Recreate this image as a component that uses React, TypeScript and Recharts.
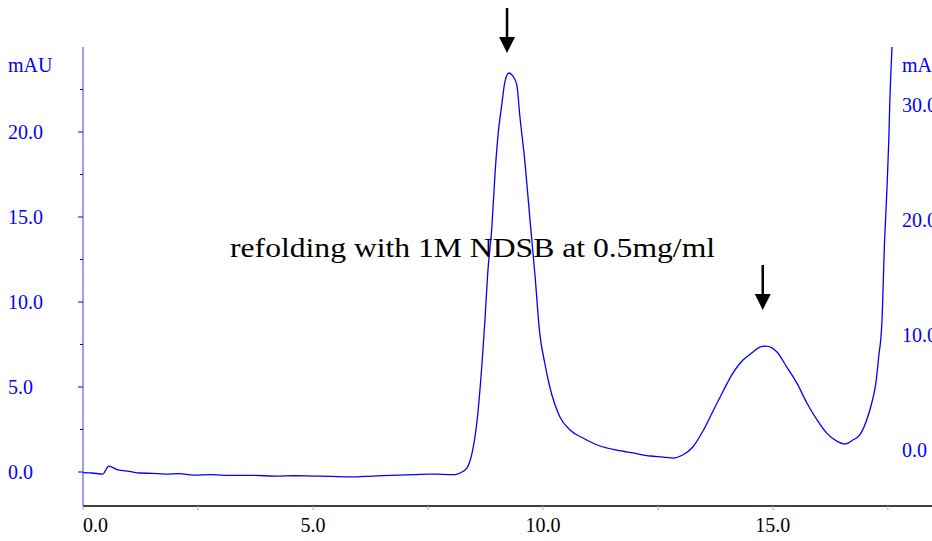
import React from "react";
import { LineChart, Line, XAxis, YAxis, ReferenceDot } from "recharts";

// retention time (min) and absorbance (mAU)
const timeMin = [
    0, 0.2, 0.43, 0.56, 0.76, 1.0, 1.24, 1.5, 1.78, 2.1, 2.39, 2.8, 3.2, 3.7, 4.22, 4.6, 5.0, 5.4,
    5.8, 6.3, 6.89, 7.2, 7.54, 7.8, 8.09, 8.2, 8.35, 8.46, 8.57, 8.67, 8.74, 8.8, 8.89, 8.96, 9.02,
    9.11, 9.17, 9.26, 9.33, 9.43, 9.5, 9.61, 9.72, 9.83, 9.93, 10.04, 10.15, 10.37, 10.59, 10.87,
    11.24, 11.61, 11.96, 12.33, 12.61, 12.83, 13.04, 13.26, 13.48, 13.7, 13.91, 14.13, 14.35,
    14.54, 14.72, 14.85, 15.09, 15.3, 15.52, 15.74, 15.96, 16.17, 16.39, 16.57, 16.74, 16.89,
    17.04, 17.15, 17.24, 17.3, 17.37, 17.43, 17.48, 17.52, 17.54, 17.59, 17.62
];
const signalMAU = [
    -0.04, -0.06, -0.12, 0.35, 0.12, 0.04, -0.06, -0.08, -0.12, -0.1, -0.18, -0.16, -0.2, -0.2,
    -0.24, -0.22, -0.24, -0.26, -0.29, -0.24, -0.18, -0.16, -0.12, -0.14, -0.15, -0.06, 0.24,
    1.12, 3.06, 6.18, 8.94, 11.7, 14.4, 17.6, 19.7, 21.7, 22.9, 23.47, 23.35, 22.8, 20.9, 18.2,
    14.8, 11.5, 8.18, 6.41, 5.0, 3.24, 2.47, 2.0, 1.53, 1.29, 1.12, 0.94, 0.88, 0.82, 1.0, 1.47,
    2.41, 3.59, 4.71, 5.82, 6.59, 7.0, 7.35, 7.41, 7.06, 6.18, 5.24, 4.06, 3.06, 2.29, 1.82,
    1.65, 1.88, 2.18, 3.06, 4.06, 5.24, 6.76, 8.76, 13.65, 16.6, 19.5, 21.5, 25.0, 27.0
];

const xTicks = [0, 2.5, 5, 7.5, 10, 12.5, 15, 17.5];
const leftTicks = [0, 2.5, 5, 7.5, 10, 12.5, 15, 17.5, 20, 22.5];
const rightTicks = [0, 10, 20, 30];

// arrows mark the two peaks: [time, mAU at arrow tip]
const arrowMarks = [
    [9.22, 24.65],
    [14.78, 9.53]
];
const noteText = "refolding with 1M NDSB at 0.5mg/ml";
const notePos = [8.47, 13.2];

const data = timeMin.map((t, i) => ({ t, mau: signalMAU[i] }));

const FONT = "'Liberation Serif', 'Times New Roman', serif";
const BLUE = "#0000ff";

function XTick({ x, y, payload }: any) {
    const v = payload.value;
    if (v % 5 !== 0) return null;
    return (
        <text x={x} y={y + 22} textAnchor={v === 0 ? "start" : "middle"} fill="#000" fontSize={20} fontFamily={FONT}>
            {v.toFixed(1)}
        </text>
    );
}

function LeftTick({ x, y, payload }: any) {
    const v = payload.value;
    const major = v % 5 === 0;
    return (
        <g>
            <line x1={x - (major ? 5 : 3)} x2={x} y1={y} y2={y} stroke={BLUE} strokeWidth={1} />
            {major && (
                <text x={x - 75} y={y + 7} textAnchor="start" fill={BLUE} fontSize={20} fontFamily={FONT}>
                    {v.toFixed(1)}
                </text>
            )}
        </g>
    );
}

// right axis labels sit a little inside the plot's right edge
function RightTick({ x, y, payload }: any) {
    return (
        <text x={x - 30} y={y + 7} textAnchor="start" fill={BLUE} fontSize={20} fontFamily={FONT}>
            {payload.value.toFixed(1)}
        </text>
    );
}

function Arrow({ cx, cy }: any) {
    return (
        <g>
            <line x1={cx} x2={cx} y1={cy - 45} y2={cy - 14} stroke="#000" strokeWidth={2.5} />
            <polygon points={`${cx - 8},${cy - 16} ${cx + 8},${cy - 16} ${cx},${cy}`} fill="#000" />
        </g>
    );
}

function Note({ cx, cy }: any) {
    return (
        <text x={cx} y={cy + 9} textAnchor="middle" fill="#000" fontSize={28} fontFamily={FONT}
            textLength={485} lengthAdjust="spacingAndGlyphs">
            {noteText}
        </text>
    );
}

export default function App() {
    return (
        <div style={{ position: "absolute", left: 0, top: 0, width: 932, height: 541, overflow: "hidden", background: "#fff" }}>
            <LineChart width={982} height={541} data={data} margin={{ top: 47, right: 0, bottom: 0, left: 0 }}>
                <XAxis
                    dataKey="t"
                    type="number"
                    domain={[0, 18.46]}
                    ticks={xTicks}
                    allowDataOverflow
                    height={35}
                    axisLine={{ stroke: "#000", strokeWidth: 1.5 }}
                    tickLine={{ stroke: "#aaa" }}
                    tickSize={4}
                    tickMargin={0}
                    tick={<XTick />}
                    interval={0}
                />
                <YAxis
                    yAxisId="left"
                    domain={[-2, 25]}
                    ticks={leftTicks}
                    allowDataOverflow
                    width={83}
                    axisLine={{ stroke: "#3a3aff", strokeWidth: 1 }}
                    tickLine={false}
                    tickSize={0}
                    tickMargin={0}
                    tick={<LeftTick />}
                    interval={0}
                />
                <YAxis
                    yAxisId="right"
                    orientation="right"
                    domain={[-4.87, 35.04]}
                    ticks={rightTicks}
                    allowDataOverflow
                    width={50}
                    axisLine={false}
                    tickLine={false}
                    tickSize={0}
                    tickMargin={0}
                    tick={<RightTick />}
                    interval={0}
                />
                <Line
                    yAxisId="left"
                    dataKey="mau"
                    type="monotone"
                    stroke={BLUE}
                    strokeWidth={1.3}
                    dot={false}
                    isAnimationActive={false}
                />
                {arrowMarks.map(([t, v], i) => (
                    <ReferenceDot key={i} yAxisId="left" x={t} y={v} ifOverflow="visible" shape={<Arrow />} />
                ))}
                <ReferenceDot yAxisId="left" x={notePos[0]} y={notePos[1]} ifOverflow="visible" shape={<Note />} />
                <text x={8} y={72} fill={BLUE} fontSize={20} fontFamily={FONT}>mAU</text>
                <text x={902} y={72} fill={BLUE} fontSize={20} fontFamily={FONT}>mAU</text>
            </LineChart>
        </div>
    );
}
